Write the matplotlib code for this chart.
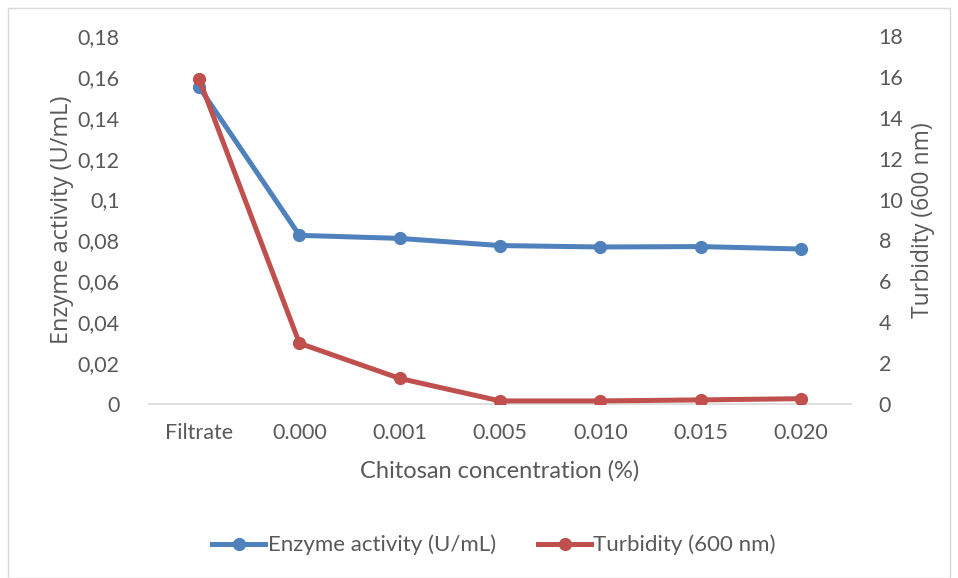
import matplotlib
matplotlib.use("Agg")
import matplotlib.pyplot as plt
from matplotlib.patches import Rectangle

categories = ["Filtrate", "0.000", "0.001", "0.005", "0.010", "0.015", "0.020"]
enzyme_activity = [0.155, 0.0825, 0.081, 0.0775, 0.0768, 0.077, 0.0758]
turbidity = [15.9, 2.97, 1.25, 0.15, 0.15, 0.2, 0.26]

left_ticks = [0, 0.02, 0.04, 0.06, 0.08, 0.1, 0.12, 0.14, 0.16, 0.18]
left_tick_labels = ["0", "0,02", "0,04", "0,06", "0,08", "0,1", "0,12", "0,14", "0,16", "0,18"]
right_ticks = [0, 2, 4, 6, 8, 10, 12, 14, 16, 18]

blue = "#4F81BD"
red = "#C0504D"
text_gray = "#595959"

plt.rcParams["font.family"] = ["Lato", "DejaVu Sans"]

fig = plt.figure(figsize=(9.58, 5.78), dpi=100)
fig.patches.append(Rectangle((8 / 958, 0), 942 / 958, 570 / 578, transform=fig.transFigure,
                             fill=False, edgecolor="#D9D9D9", linewidth=1.0))

ax = fig.add_axes([149 / 958, 1 - 404 / 578, (851 - 149) / 958, (404 - 36) / 578])
ax2 = ax.twinx()

x = list(range(len(categories)))
ax.plot(x, enzyme_activity, color=blue, linewidth=3.6, marker="o", markersize=8.5,
        label="Enzyme activity (U/mL)", zorder=3)
ax2.plot(x, turbidity, color=red, linewidth=3.6, marker="o", markersize=8.5,
         label="Turbidity (600 nm)", zorder=3)

ax.set_xlim(-0.5, len(categories) - 0.5)
ax.set_ylim(0, 0.18)
ax2.set_ylim(0, 18)

ax.set_xticks(x)
ax.set_xticklabels(categories)
ax.set_yticks(left_ticks)
ax.set_yticklabels(left_tick_labels)
ax2.set_yticks(right_ticks)
ax2.set_yticklabels([str(t) for t in right_ticks])

for a in (ax, ax2):
    for s in a.spines.values():
        s.set_visible(False)
    a.tick_params(length=0, labelsize=15.5, colors=text_gray)
ax.spines["bottom"].set_visible(True)
ax.spines["bottom"].set_color("#D9D9D9")
ax.spines["bottom"].set_linewidth(1.2)

ax.tick_params(axis="x", pad=14)
ax.tick_params(axis="y", pad=21)
ax2.tick_params(axis="y", pad=20)

ax.set_xlabel("Chitosan concentration (%)", fontsize=17, color=text_gray, labelpad=12)
ax.set_ylabel("Enzyme activity (U/mL)", fontsize=17, color=text_gray, labelpad=3,
              family=["Open Sans", "DejaVu Sans"])
ax2.set_ylabel("Turbidity (600 nm)", fontsize=16.5, color=text_gray, labelpad=5,
               family=["Open Sans", "DejaVu Sans"])

h1, l1 = ax.get_legend_handles_labels()
h2, l2 = ax2.get_legend_handles_labels()
fig.legend(h1 + h2, l1 + l2, loc="center", bbox_to_anchor=(494 / 958, 1 - 545 / 578),
           ncol=2, frameon=False, fontsize=16, labelcolor=text_gray,
           handlelength=2.4, handletextpad=0.1, columnspacing=1.9)

fig.savefig("out.png", dpi=100)
